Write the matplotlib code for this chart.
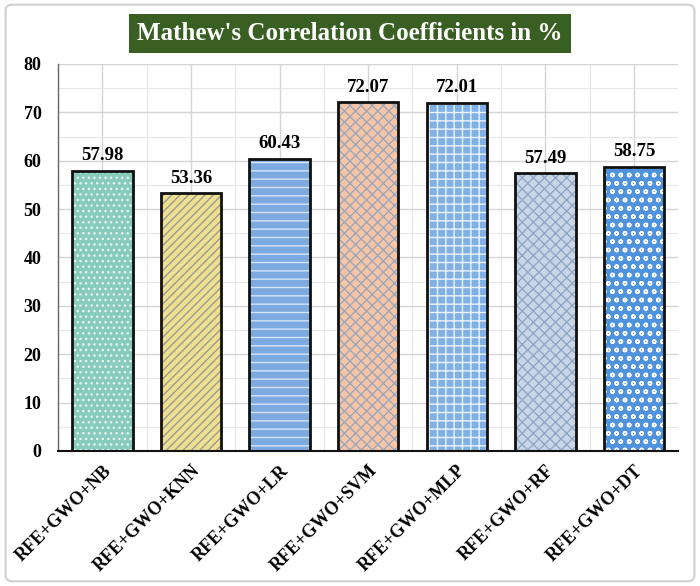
import matplotlib.pyplot as plt
import numpy as np
from matplotlib.patches import FancyBboxPatch

models = ['RFE+GWO+NB', 'RFE+GWO+KNN', 'RFE+GWO+LR', 'RFE+GWO+SVM',
          'RFE+GWO+MLP', 'RFE+GWO+RF', 'RFE+GWO+DT']
mcc = [57.98, 53.36, 60.43, 72.07, 72.01, 57.49, 58.75]
face_colors = ['#86cbbb', '#efe08e', '#7eaae2', '#f7c4a4', '#7fb0e6', '#c9d6e6', '#4f93dc']
hatch_colors = ['#e8f6f0', '#9a9a9a', '#d8e6f8', '#9aa8c0', '#eef4fc', '#8fa8c8', '#ffffff']
hatches = ['...', '////', '--', 'xxx', '++', 'xxx', 'oo']

plt.rcParams['font.family'] = ['Liberation Serif', 'DejaVu Serif']
plt.rcParams['font.weight'] = 'bold'
plt.rcParams['hatch.linewidth'] = 1.0

fig = plt.figure(figsize=(7, 5.86), dpi=100)
ax = fig.add_axes([0.083, 0.2304, 0.886, 0.6604])

# cadre gris autour de la figure
frame = FancyBboxPatch((0.008, 0.008), 0.984, 0.984, boxstyle='round,pad=0,rounding_size=0.01',
                       transform=fig.transFigure, fill=False, edgecolor='#d0d0d0', lw=1.5)
fig.patches.append(frame)

x = np.arange(len(models))
# remplissage + motif
for i in range(len(models)):
    ax.bar(x[i], mcc[i], width=0.68, color=face_colors[i], hatch=hatches[i],
           edgecolor=hatch_colors[i], linewidth=0, zorder=2)
# contour noir
ax.bar(x, mcc, width=0.68, fill=False, edgecolor='#111111', linewidth=2, zorder=3)

for i, v in enumerate(mcc):
    ax.text(x[i], v + 1.3, f'{v:.2f}', ha='center', va='bottom', fontsize=13.5, fontweight='bold')

ax.set_xlim(-0.5, len(models) - 0.5)
ax.set_ylim(0, 80)
ax.set_yticks(np.arange(0, 81, 10))
ax.set_yticks(np.arange(0, 81, 5), minor=True)
ax.set_xticks(x)
ax.set_xticks(np.arange(-0.5, len(models), 1), minor=True)
ax.set_xticklabels(models, rotation=45, ha='right', rotation_mode='anchor', fontsize=13, fontweight='bold')
ax.tick_params(axis='y', labelsize=13, length=0, pad=12)
ax.tick_params(axis='x', length=0, pad=8)
ax.tick_params(which='minor', length=0)

ax.grid(True, which='major', color='#d4d4d4', lw=1, zorder=0)
ax.grid(True, which='minor', color='#e6e6e6', lw=0.8, zorder=0)
ax.set_axisbelow(True)

for s in ['top', 'right']:
    ax.spines[s].set_visible(False)
ax.spines['left'].set_color('#666666')
ax.spines['left'].set_linewidth(1)
ax.spines['bottom'].set_color('#111111')
ax.spines['bottom'].set_linewidth(1.5)

fig.text(0.5, 0.942, "Mathew's Correlation Coefficients in %", ha='center', va='center',
         fontsize=18, fontweight='bold', color='white',
         bbox=dict(boxstyle='square,pad=0.32', facecolor='#3a5f23', edgecolor='none'))

plt.savefig('out.png', dpi=100)
